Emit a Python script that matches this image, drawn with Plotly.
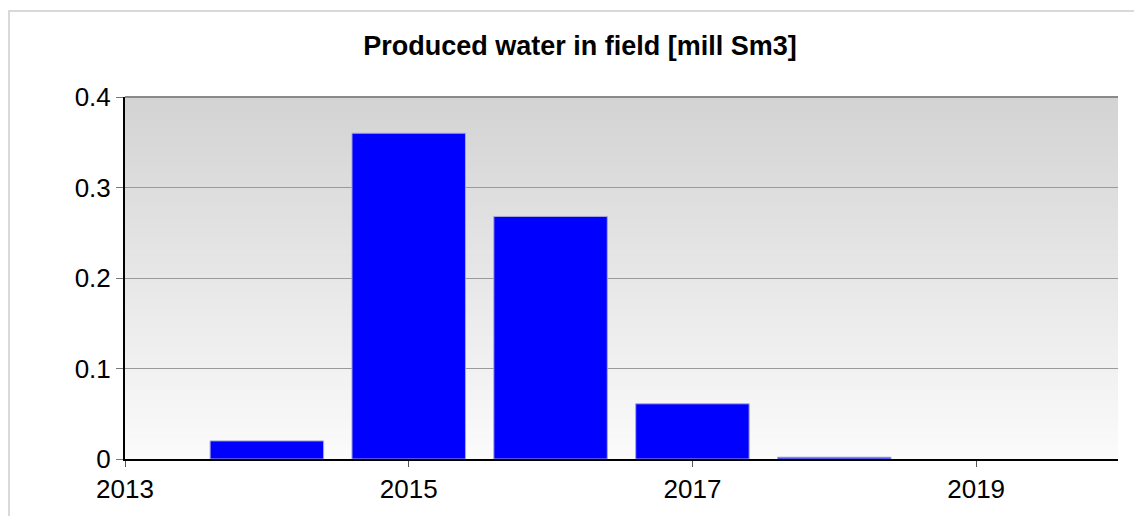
import plotly.graph_objects as go

years = [2014, 2015, 2016, 2017, 2018]
water = [0.020, 0.360, 0.268, 0.061, 0.002]
x_ticks = [2013, 2015, 2017, 2019]
y_ticks = [0, 0.1, 0.2, 0.3, 0.4]

fig = go.Figure()
fig.add_trace(go.Bar(
    x=years, y=water,
    marker=dict(color="#0000ff", line=dict(color="#a8a8d8", width=1)),
    width=0.8,
))

# vertical grey gradient behind the plot area
n = 180
top, bot = 211, 251
shapes = []
for i in range(n):
    c = round(bot + (top - bot) * (i + 0.5) / n)
    shapes.append(dict(type="rect", xref="paper", yref="paper", layer="below",
                       x0=0, x1=1, y0=i / n, y1=(i + 1) / n + 0.002,
                       fillcolor=f"rgb({c},{c},{c})", line=dict(width=0)))
# outer frame of the chart
shapes.append(dict(type="rect", xref="paper", yref="paper", layer="below",
                   x0=-0.1168, x1=1.1, y0=-0.5, y1=1.2376,
                   line=dict(color="#d9d9d9", width=2), fillcolor="rgba(0,0,0,0)"))
# top border line at 0.4
shapes.append(dict(type="line", xref="paper", yref="paper", layer="below",
                   x0=0, x1=1, y0=1, y1=1, line=dict(color="#8a8a8a", width=2)))

fig.update_layout(
    margin=dict(l=117, r=16, t=89, b=57),
    paper_bgcolor="white",
    plot_bgcolor="rgba(0,0,0,0)",
    showlegend=False,
    shapes=shapes,
    font=dict(family="Liberation Sans, Arial, sans-serif", color="black"),
    title=dict(text="<b>Produced water in field [mill Sm3]</b>", x=0.508, xref="container",
               xanchor="center", y=0.927, yanchor="middle", font=dict(size=27)),
    xaxis=dict(range=[2013, 2020], tickvals=x_ticks, ticktext=[str(t) for t in x_ticks],
               showgrid=False, zeroline=False, showline=True, linecolor="black", linewidth=2,
               ticks="outside", ticklen=6, tickcolor="#555", tickfont=dict(size=26)),
    yaxis=dict(range=[0, 0.4], tickvals=y_ticks, ticktext=["0", "0.1", "0.2", "0.3", "0.4"],
               showgrid=True, gridcolor="#9a9a9a", gridwidth=1, zeroline=False,
               showline=True, linecolor="black", linewidth=2,
               ticks="outside", ticklen=7, tickcolor="#777", tickfont=dict(size=26)),
)

fig.write_html("out.html")
